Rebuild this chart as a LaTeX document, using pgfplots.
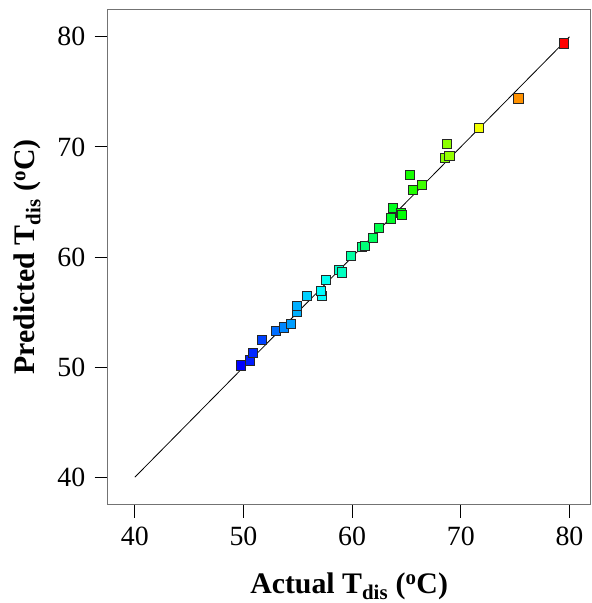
\documentclass[border=0pt]{standalone}
\usepackage{pgfplots}
\pgfplotsset{compat=1.18}
\usepackage{fontspec}
\setmainfont{Liberation Serif}

\pgfplotstableread{
act pred
49.8 50.15
50.6 50.6
50.9 51.3
51.7 52.5
53.0 53.3
53.75 53.6
54.4 53.9
54.95 55.05
54.9 55.55
55.85 56.45
57.2 56.5
57.1 56.95
57.6 57.95
58.8 58.8
59.05 58.6
59.9 60.1
60.9 60.9
61.15 61.0
61.9 61.75
62.5 62.65
63.55 63.5
63.75 64.45
64.5 64.0
64.6 63.8
65.3 67.45
65.6 66.1
66.45 66.55
68.55 69.0
68.95 69.15
68.75 70.3
71.7 71.75
75.3 74.4
79.5 79.4
}\pts

\begin{document}
\begin{tikzpicture}
\begin{axis}[
  scale only axis,
  width=485.7pt, height=498.4pt,
  xmin=37.5, xmax=81.94, ymin=37.5, ymax=82.5,
  xtick={40,50,...,80}, ytick={40,50,...,80},
  tick align=outside, xtick pos=bottom, ytick pos=left,
  major tick length=13pt,
  axis line style={black!55, line width=1.2pt},
  tick style={black, line width=0.8pt},
  /pgf/number format/assume math mode=true,
  tick label style={font=\fontsize{28}{30}\selectfont},
  xticklabel style={yshift=-6pt},
  yticklabel style={xshift=-6pt},
  label style={font=\fontsize{30}{34}\selectfont\bfseries},
  xlabel style={yshift=-20pt},
  ylabel style={yshift=10pt},
  xlabel={Actual T\textsubscript{dis} (\textsuperscript{o}C)},
  ylabel={Predicted T\textsubscript{dis} (\textsuperscript{o}C)},
  colormap={rb}{rgb255=(0,0,255) rgb255=(0,255,255) rgb255=(0,255,0) rgb255=(255,255,0) rgb255=(255,0,0)},
  point meta min=49.8, point meta max=79.5,
]
\addplot[black, line width=0.8pt] coordinates {(40,40) (80,80)};
\addplot[scatter, only marks, mark=square*, mark size=4.6pt,
  scatter/use mapped color={draw=black!85, fill=mapped color},
  mark options={line width=0.9pt}, point meta=\thisrow{act}]
  table[x=act, y=pred] {\pts};
\end{axis}
\path (current axis.south west) ++(-108.3pt,-95.3pt) (current axis.north east) ++(1pt,9.3pt);
\end{tikzpicture}
\end{document}
